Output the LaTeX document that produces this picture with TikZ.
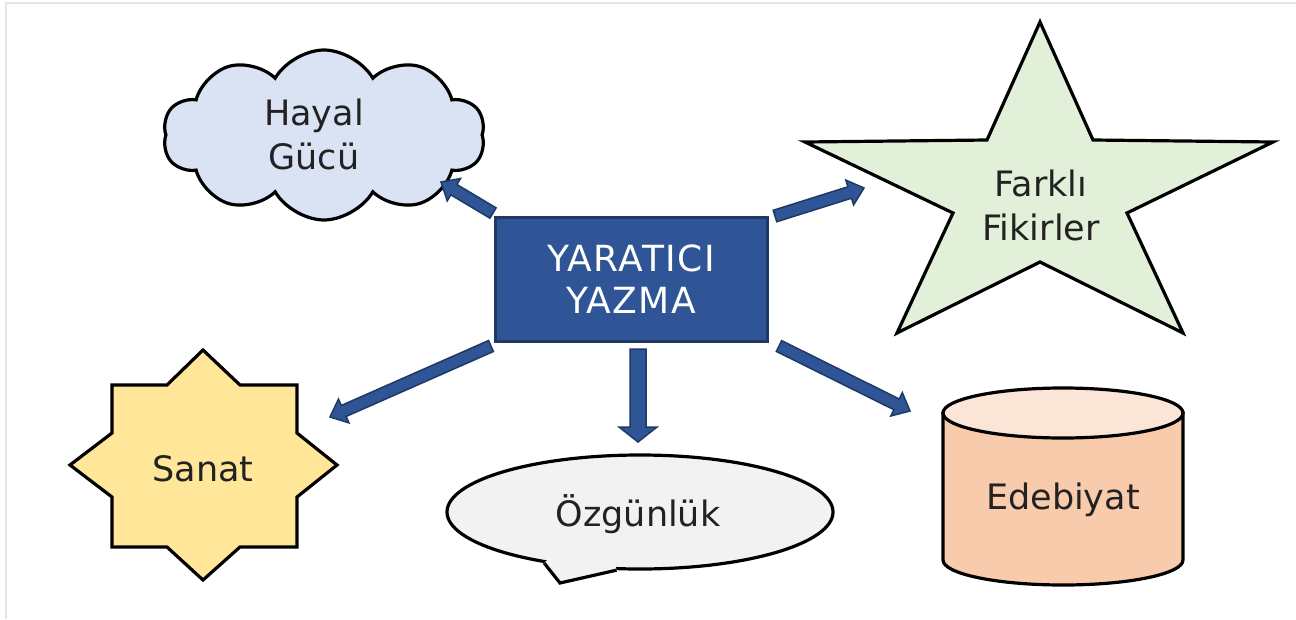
\documentclass[tikz,border=0pt]{standalone}
\usepackage{fontspec}
\setmainfont{DejaVu Sans}
\usetikzlibrary{shapes.symbols,shapes.geometric,calc}
\definecolor{boxfill}{HTML}{2F5597}
\definecolor{boxedge}{HTML}{1F3864}
\definecolor{cloudfill}{HTML}{DAE3F3}
\definecolor{starfill}{HTML}{E2F0D9}
\definecolor{sunfill}{HTML}{FFE699}
\definecolor{bubblefill}{HTML}{F2F2F2}
\definecolor{cylbody}{HTML}{F8CBAD}
\definecolor{cyltop}{HTML}{FBE5D6}
\definecolor{txt}{HTML}{222222}
\definecolor{framegray}{HTML}{E6E6E6}
\newcommand\blockarrow[5]{%
  \coordinate (bah) at ($(#2)!#5!(#1)$);
  \draw[arrowbody] ($(#1)!#3!90:(#2)$) -- ($(bah)!#3!-90:(#1)$) -- ($(bah)!#4!-90:(#1)$) -- (#2)
    -- ($(bah)!#4!90:(#1)$) -- ($(bah)!#3!90:(#1)$) -- ($(#1)!#3!-90:(#2)$) -- cycle;}
\begin{document}
\begin{tikzpicture}[x=1pt,y=-1pt,
  shapeline/.style={draw=black, line width=3.2pt, line join=miter},
  lbl/.style={font=\fontsize{35}{44}\selectfont, text=txt, align=center, inner sep=0pt},
  mainbox/.style={draw=boxedge, line width=3pt, fill=boxfill, text=white, align=center,
    font=\fontsize{36}{42}\selectfont\addfontfeature{LetterSpace=4}},
  arrowbody/.style={draw=boxedge, line width=1.5pt, fill=boxfill, line join=miter}]
\useasboundingbox (0,0) rectangle (1296,619);
\fill[white] (0,0) rectangle (1296,619);
\draw[framegray, line width=2pt] (6,619) -- (6,3) -- (1296,3);

% central box
\node[mainbox, minimum width=272pt, minimum height=124pt, inner sep=0pt] (box) at (631,279) {YARATICI\\YAZMA};

% cloud
\node[cloud, cloud puffs=10, cloud puff arc=120, cloud ignores aspect, minimum width=322pt, minimum height=170pt,
  shapeline, fill=cloudfill] (hayalc) at (324,135) {};
\node[lbl] (hayal) at (314,134) {Hayal\\Gücü};

% five-point star
\path[shapeline, fill=starfill] (1040,22) -- (1093,140) -- (1273,142) -- (1127,213) -- (1183,333) -- (1040,262)
  -- (897,333) -- (953,213) -- (805,142) -- (987,140) -- cycle;
\node[lbl] (farkli) at (1041,205) {Farklı\\Fikirler};

% eight-point star
\path[shapeline, fill=sunfill] (203,350) -- (240,385) -- (297,385) -- (297,433) -- (337,465) -- (297,497)
  -- (297,547) -- (240,547) -- (203,580) -- (167,547) -- (112,547) -- (112,497) -- (70,465) -- (112,433)
  -- (112,385) -- (167,385) -- cycle;
\node[lbl] (sanat) at (203,469) {Sanat};

% speech bubble
\node[ellipse, shapeline, fill=bubblefill, minimum width=386pt, minimum height=114pt, inner sep=0pt] (ozc) at (640,512) {};
\coordinate (tailtip) at (560,583);
\fill[bubblefill] (ozc.208) -- (tailtip) -- (ozc.248) -- (612,552) -- (560,548) -- cycle;
\draw[shapeline] (ozc.208) -- (tailtip) -- (ozc.248);
\node[lbl] (ozg) at (638,514) {Özgünlük};

% cylinder
\path[shapeline, fill=cylbody] (943,413) -- (943,560) arc[start angle=180, end angle=0, x radius=120, y radius=25]
  -- (1183,413) -- cycle;
\path[shapeline, fill=cyltop] (1063,413) ellipse [x radius=120, y radius=25];
\node[lbl] (edeb) at (1063,500) {Edebiyat};

% arrows
\coordinate (a1s) at (493,213); \coordinate (a1e) at (441,182);
\coordinate (a2s) at (775,216); \coordinate (a2e) at (864,188);
\coordinate (a3s) at (491,346); \coordinate (a3e) at (330,417);
\coordinate (a4s) at (638,349); \coordinate (a4e) at (638,442);
\coordinate (a5s) at (779,346); \coordinate (a5e) at (910,411);
\blockarrow{a1s}{a1e}{6pt}{13pt}{15pt}
\blockarrow{a2s}{a2e}{6pt}{13pt}{15pt}
\blockarrow{a3s}{a3e}{6pt}{13pt}{15pt}
\blockarrow{a4s}{a4e}{8pt}{19pt}{15pt}
\blockarrow{a5s}{a5e}{6pt}{13pt}{15pt}
\end{tikzpicture}
\end{document}
